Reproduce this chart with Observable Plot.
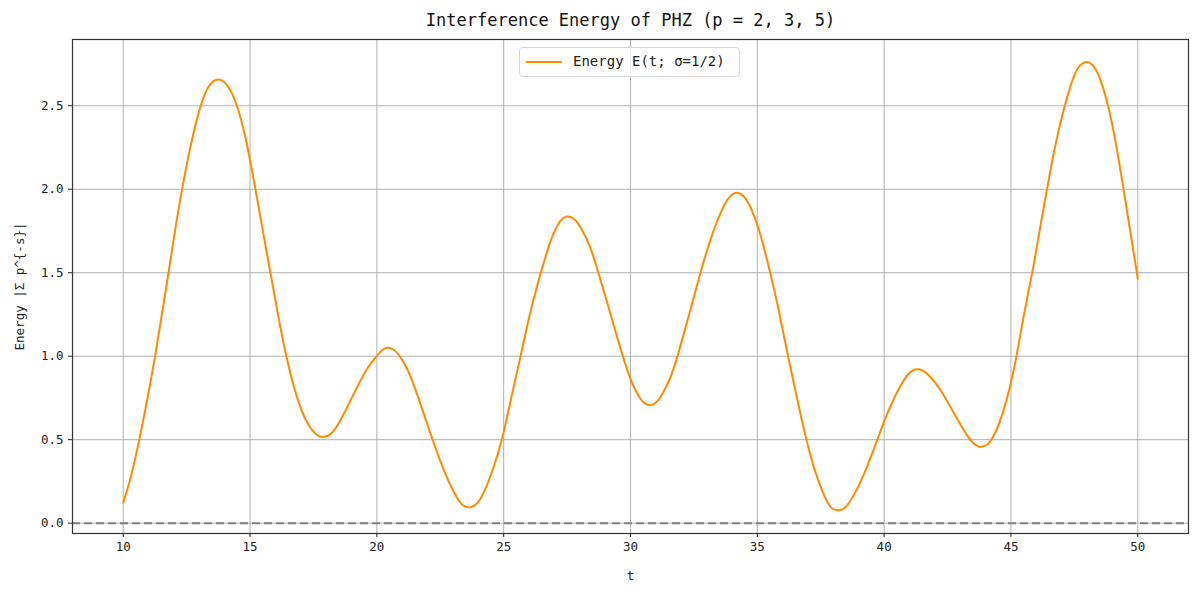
<!DOCTYPE html>
<html>
<head>
<meta charset="utf-8">
<script src="https://cdn.jsdelivr.net/npm/d3@7"></script>
<script src="https://cdn.jsdelivr.net/npm/@observablehq/plot@0.6"></script>
<style>
  html, body { margin: 0; padding: 0; background: #fff; }
  #wrap { position: relative; width: 1200px; height: 595px; font-family: "DejaVu Sans Mono", monospace; }
  #legend { position: absolute; left: 519px; top: 47px; width: 221px; height: 30px; border: 1px solid #d6d6d6; border-radius: 4px; background: rgba(255,255,255,0.85); box-sizing: border-box; }
  #legend .sw { position: absolute; left: 6px; top: 13px; width: 36px; height: 2px; background: #ff8c00; }
  #legend .lb { position: absolute; left: 53px; top: 5px; font-size: 14px; color: #222; white-space: nowrap; }
</style>
</head>
<body>
<div id="wrap"><div id="chart"></div>
<div id="legend"><div class="sw"></div><div class="lb">Energy E(t; σ=1/2)</div></div>
</div>
<script>
const tValues = [10, 10.28, 10.64, 11.0, 11.26, 11.59, 11.79, 12.05, 12.32, 12.65, 13.04, 13.37, 13.76, 14.16, 14.49, 14.82, 15.21, 15.54, 15.8, 16.07, 16.42, 16.66, 16.92, 17.25, 17.58, 17.84, 18.17, 18.5, 18.83, 19.22, 19.62, 20.0, 20.2, 20.41, 20.62, 20.81, 21.2, 21.6, 22.19, 22.7, 23.2, 23.4, 23.66, 23.95, 24.2, 24.6, 24.95, 25.3, 25.67, 26.06, 26.46, 26.9, 27.25, 27.54, 27.8, 28.04, 28.44, 28.73, 29.1, 29.43, 29.7, 30.02, 30.41, 30.6, 30.78, 31.0, 31.2, 31.6, 31.86, 32.32, 32.75, 33.2, 33.7, 33.95, 34.2, 34.45, 34.7, 35.1, 35.48, 35.85, 36.18, 36.55, 36.89, 37.3, 37.7, 37.9, 38.17, 38.45, 38.8, 39.3, 39.8, 40.25, 40.67, 40.94, 41.12, 41.31, 41.52, 41.73, 42.12, 42.52, 42.91, 43.31, 43.52, 43.73, 43.95, 44.16, 44.56, 44.95, 45.2, 45.45, 45.74, 45.87, 46.13, 46.43, 46.72, 47.12, 47.52, 47.75, 47.98, 48.2, 48.44, 48.84, 49.17, 49.43, 49.7, 50];
const energy = [0.124, 0.254, 0.5, 0.78, 1.0, 1.314, 1.503, 1.764, 2.005, 2.263, 2.507, 2.633, 2.673, 2.623, 2.507, 2.323, 2.005, 1.72, 1.503, 1.27, 1.0, 0.854, 0.714, 0.594, 0.53, 0.51, 0.524, 0.594, 0.694, 0.814, 0.934, 1.0, 1.04, 1.054, 1.045, 1.024, 0.934, 0.77, 0.5, 0.285, 0.136, 0.103, 0.088, 0.112, 0.171, 0.328, 0.5, 0.755, 1.0, 1.278, 1.5, 1.725, 1.823, 1.843, 1.824, 1.773, 1.653, 1.5, 1.314, 1.134, 1.0, 0.843, 0.734, 0.712, 0.704, 0.718, 0.754, 0.874, 1.0, 1.254, 1.5, 1.729, 1.915, 1.967, 1.985, 1.966, 1.911, 1.751, 1.52, 1.278, 1.02, 0.759, 0.52, 0.289, 0.14, 0.086, 0.074, 0.083, 0.16, 0.32, 0.53, 0.707, 0.834, 0.894, 0.916, 0.924, 0.916, 0.894, 0.824, 0.724, 0.614, 0.514, 0.475, 0.454, 0.46, 0.474, 0.594, 0.8, 0.98, 1.2, 1.43, 1.52, 1.755, 2.007, 2.253, 2.509, 2.703, 2.751, 2.767, 2.752, 2.703, 2.509, 2.253, 2.007, 1.753, 1.464];
const xTicks = [10, 15, 20, 25, 30, 35, 40, 45, 50];
const yTicks = [0, 0.5, 1.0, 1.5, 2.0, 2.5];
const titleText = "Interference Energy of PHZ (p = 2, 3, 5)";
const xLabel = "t";
const yLabel = "Energy |Σ p^{-s}|";

const data = tValues.map((t, i) => ({t, e: energy[i]}));

const chart = Plot.plot({
  width: 1200,
  height: 595,
  marginLeft: 72,
  marginRight: 12,
  marginTop: 39,
  marginBottom: 62,
  style: {fontFamily: "DejaVu Sans Mono, monospace", fontSize: "12.5px", color: "#222", background: "#fff", overflow: "visible"},
  x: {domain: [8, 52]},
  y: {domain: [-0.062, 2.897]},
  marks: [
    Plot.gridX(xTicks, {stroke: "#b0b0b0", strokeOpacity: 1, strokeWidth: 1}),
    Plot.gridY(yTicks, {stroke: "#b0b0b0", strokeOpacity: 1, strokeWidth: 1}),
    Plot.ruleY([0], {stroke: "#808080", strokeWidth: 2, strokeDasharray: "8,4"}),
    Plot.line(data, {x: "t", y: "e", stroke: "#ff8c00", strokeWidth: 2, curve: "basis"}),
    Plot.frame({stroke: "#333", strokeWidth: 1.2}),
    Plot.axisX({ticks: xTicks, tickSize: 4, tickPadding: 5, tickFormat: d => String(d), label: xLabel, labelAnchor: "center", labelArrow: "none", labelOffset: 46, fontSize: 12.5}),
    Plot.axisY({ticks: yTicks, tickSize: 4, tickPadding: 5, tickFormat: d3.format(".1f"), label: yLabel, labelAnchor: "center", labelArrow: "none", labelOffset: 57, fontSize: 12.5}),
    Plot.text([titleText], {frameAnchor: "top", lineAnchor: "middle", dy: -19, fontSize: 17, fill: "#111"})
  ]
});
document.getElementById("chart").appendChild(chart);
</script>
</body>
</html>
